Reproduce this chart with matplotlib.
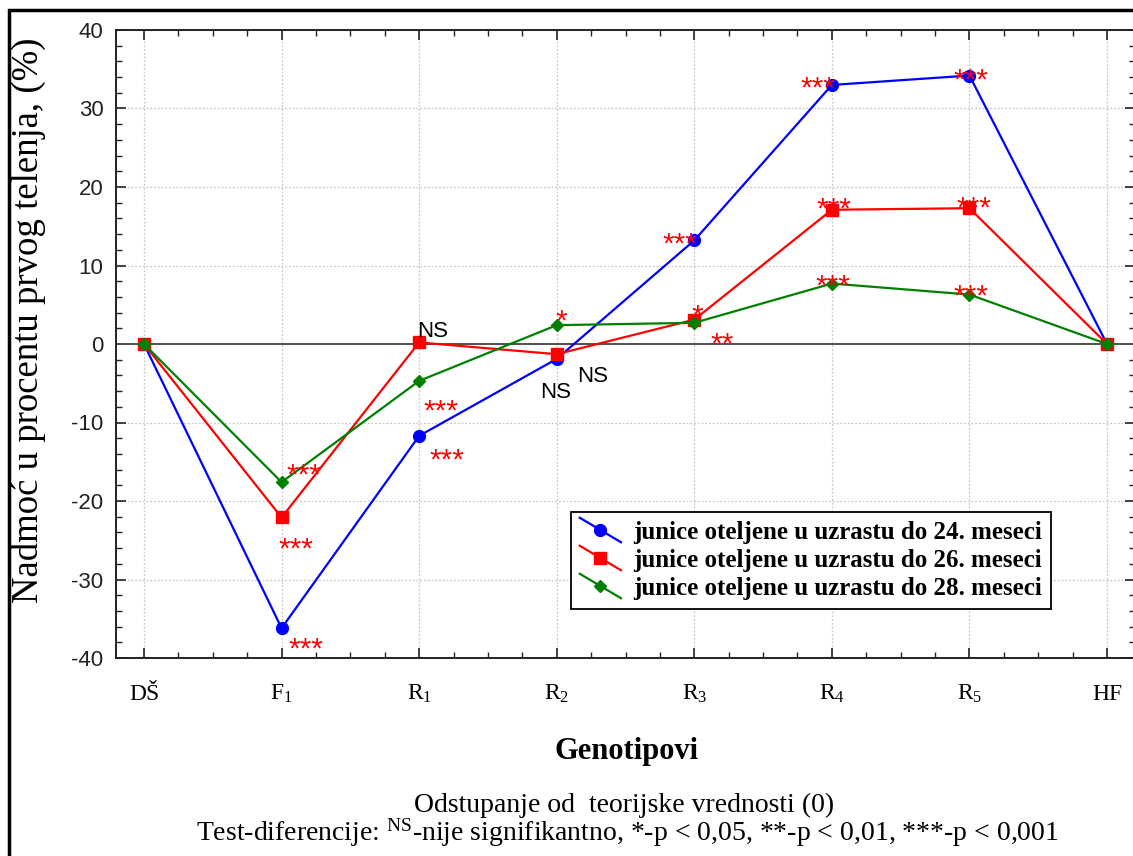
import matplotlib
matplotlib.use("Agg")
import matplotlib.pyplot as plt
from matplotlib.legend_handler import HandlerLine2D
from matplotlib.lines import Line2D
from matplotlib.patches import Rectangle
from matplotlib.ticker import MultipleLocator

# ---------------- data ----------------
categories = ["DŠ", "F$_1$", "R$_1$", "R$_2$", "R$_3$", "R$_4$", "R$_5$", "HF"]
series_labels = [
    "junice oteljene u uzrastu do 24. meseci",
    "junice oteljene u uzrastu do 26. meseci",
    "junice oteljene u uzrastu do 28. meseci",
]
vals_24 = [0.0, -36.2, -11.7, -1.9, 13.2, 33.0, 34.2, 0.0]
vals_26 = [0.0, -22.1, 0.2, -1.3, 3.1, 17.1, 17.3, 0.0]
vals_28 = [0.0, -17.6, -4.7, 2.4, 2.7, 7.7, 6.3, 0.0]

# significance labels (None = no label)
sig_24 = [None, "***", "***", "NS", "***", "***", "***", None]
sig_26 = [None, "***", "NS", "NS", "*", "***", "***", None]
sig_28 = [None, "***", "***", "*", "**", "***", "***", None]

# ---------------- layout / style ----------------
colors = ["#0000ff", "#ff0000", "#008000"]
markers = ["o", "s", "D"]
msizes = [8.5, 9, 6.5]

# label offsets in pixels (dx, dy) relative to each point, per series
offs_24 = [None, (24, -12), (28, -16), (-1, -31), (-14, 5), (-14, 5), (1, 4), None]
offs_26 = [None, (14, -23), (13, 14), (36, -19), (3, 12), (2, 9), (4, 9), None]
offs_28 = [None, (22, 16), (22, -22), (5, 13), (28, -13), (1, 6), (1, 7), None]

W, H = 1133, 856
fig = plt.figure(figsize=(W / 100, H / 100), dpi=100)
ax_l, ax_r, ax_t, ax_b = 116, 1135, 30, 658
ax = fig.add_axes([ax_l / W, 1 - ax_b / H, (ax_r - ax_l) / W, (ax_b - ax_t) / H])

plt.rcParams["mathtext.default"] = "regular"

x = list(range(len(categories)))
all_vals = [vals_24, vals_26, vals_28]
all_sig = [sig_24, sig_26, sig_28]
all_offs = [offs_24, offs_26, offs_28]

handles = []
for i, vals in enumerate(all_vals):
    (ln,) = ax.plot(x, vals, color=colors[i], marker=markers[i], markersize=msizes[i],
                    linewidth=1.6, label=series_labels[i], zorder=3 + i)
    handles.append(ln)

ax.axhline(0, color="#505050", linewidth=1.4, zorder=2)

# significance annotations
for vals, sigs, offs in zip(all_vals, all_sig, all_offs):
    for xi, (v, s, o) in enumerate(zip(vals, sigs, offs)):
        if s is None:
            continue
        if s == "NS":
            ax.annotate(s, xy=(xi, v), xytext=(o[0], o[1] - 8.5), textcoords="offset pixels",
                        ha="center", va="baseline", fontsize=16, color="black",
                        family="Liberation Sans", zorder=10)
        else:
            ax.annotate(s, xy=(xi, v), xytext=(o[0], o[1] - 17), textcoords="offset pixels",
                        ha="center", va="baseline", fontsize=21.5, color="red",
                        family="Liberation Sans", zorder=10)

ax.set_xlim(-28 / 137.6, 7 + (1135 - 1107) / 137.6)
ax.set_ylim(-40, 40)
ax.xaxis.set_major_locator(MultipleLocator(1))
ax.xaxis.set_minor_locator(MultipleLocator(0.25))
ax.yaxis.set_major_locator(MultipleLocator(10))
ax.yaxis.set_minor_locator(MultipleLocator(2))
ax.grid(True, which="major", color="#c8c8c8", linestyle=(0, (1.5, 1.5)), linewidth=0.9)
ax.tick_params(which="both", direction="in", top=True, right=True, colors="#222222")
ax.tick_params(which="major", length=7, width=1.2)
ax.tick_params(which="minor", length=4, width=1.0)
ax.tick_params(axis="y", pad=9)
ax.set_yticks(range(-40, 41, 10))
ax.set_yticklabels([str(v) for v in range(-40, 41, 10)], family="Liberation Sans", fontsize=16)
ax.set_xticks(x)
ax.set_xticklabels([])
for sp in ax.spines.values():
    sp.set_color("#222222")
    sp.set_linewidth(1.4)

# x category labels
for xi, lab in zip(x, categories):
    ax.text(xi, -(700 - ax_b) / (ax_b - ax_t), lab, transform=ax.get_xaxis_transform(),
            ha="center", va="baseline", fontsize=17, family="Liberation Serif")


# legend with diagonal handles
class DiagHandler(HandlerLine2D):
    def create_artists(self, legend, orig_handle, xdescent, ydescent, width, height,
                       fontsize, trans):
        x0, y0 = -xdescent, -ydescent
        line = Line2D([x0, x0 + width], [y0 + height * 1.2, y0 - height * 0.2])
        self.update_prop(line, orig_handle, legend)
        line.set_marker("None")
        mk = Line2D([x0 + width / 2], [y0 + height / 2])
        self.update_prop(mk, orig_handle, legend)
        mk.set_linestyle("None")
        line.set_transform(trans)
        mk.set_transform(trans)
        return [line, mk]


leg = ax.legend(handles=handles, loc="upper left",
                bbox_to_anchor=((571 - ax_l) / (ax_r - ax_l), (ax_b - 512) / (ax_b - ax_t)),
                borderaxespad=0, fancybox=False, framealpha=1, edgecolor="black",
                prop={"family": "Liberation Serif", "weight": "bold", "size": 18},
                handlelength=1.65, handletextpad=0.5, labelspacing=0.2,
                borderpad=0.35, handler_map={Line2D: DiagHandler()})
leg.get_frame().set_linewidth(1.3)

# y axis label
fig.text(28 / W, 1 - 320 / H, "Nadmoć u procentu prvog telenja, (%)", rotation=90,
         ha="center", va="center", fontsize=26.5, family="Liberation Serif")

# x axis title and footnote
fig.text(627 / W, 1 - 759 / H, "Genotipovi", ha="center", va="baseline",
         fontsize=22, weight="bold", family="Liberation Serif")
fig.text(624 / W, 1 - 812 / H, "Odstupanje od  teorijske vrednosti (0)", ha="center",
         va="baseline", fontsize=20, family="Liberation Serif")
fig.text(627 / W, 1 - 841 / H,
         "Test-diferencije: $^{NS}$-nije signifikantno, *-p < 0,05, **-p < 0,01, ***-p < 0,001",
         ha="center", va="baseline", fontsize=20, family="Liberation Serif")

# figure border
fig.patches.append(Rectangle((9 / W, -0.05), 1.2, 1 - 10 / H + 0.05, transform=fig.transFigure,
                             fill=False, edgecolor="black", linewidth=2.5, zorder=0))

fig.savefig("out.png", dpi=100)
